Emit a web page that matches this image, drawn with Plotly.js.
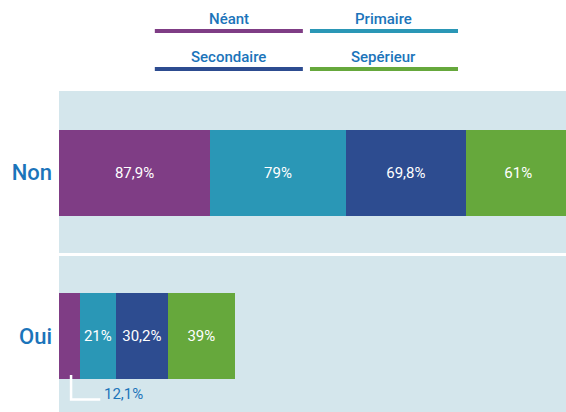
<!DOCTYPE html>
<html>
<head>
<meta charset="utf-8">
<script src="https://cdn.plot.ly/plotly-3.0.1.min.js"></script>
<style>
  html, body { margin: 0; padding: 0; background: #fff; }
  #chart { width: 566px; height: 412px; }
</style>
</head>
<body>
<div id="chart"></div>
<script>
// answer categories (y axis)
var reponses = ['Non', 'Oui'];

// education level series, % per answer
var niveaux = ['Néant', 'Primaire', 'Secondaire', 'Sepérieur'];
var neant = [87.9, 12.1];
var primaire = [79, 21];
var secondaire = [69.8, 30.2];
var superieur = [61, 39];

// labels as printed (french decimal comma)
var lblNeant = ['87,9%', '12,1%'];
var lblPrimaire = ['79%', '21%'];
var lblSecondaire = ['69,8%', '30,2%'];
var lblSuperieur = ['61%', '39%'];

var couleurs = ['#7f3d85', '#2a97b6', '#2d4c90', '#66a83c'];
var bleu = '#1b74ba';

var series = [neant, primaire, secondaire, superieur];
var labels = [lblNeant, lblPrimaire, lblSecondaire, lblSuperieur];

var data = series.map(function (vals, i) {
  // the small Neant/Oui value gets a callout instead of an inside label
  var txt = labels[i].map(function (t, j) { return vals[j] < 15 ? '' : t; });
  return {
    type: 'bar',
    orientation: 'h',
    y: reponses,
    x: vals,
    name: niveaux[i],
    width: 0.524,
    text: txt,
    textposition: 'inside',
    insidetextanchor: 'middle',
    textangle: 0,
    textfont: { family: 'Roboto', size: 15, color: '#ffffff', weight: 400 },
    marker: { color: couleurs[i], line: { width: 0 } },
    hoverinfo: 'none'
  };
});

// legend: text above a coloured rule, two columns
var legX = [[0.189, 0.481], [0.495, 0.787], [0.189, 0.481], [0.495, 0.787]];
var legY = [1.187, 1.187, 1.0685, 1.0685];
var shapes = [];
var annotations = [];
niveaux.forEach(function (n, i) {
  shapes.push({
    type: 'line', xref: 'paper', yref: 'paper',
    x0: legX[i][0], x1: legX[i][1], y0: legY[i], y1: legY[i],
    line: { color: couleurs[i], width: 4 }
  });
  annotations.push({
    xref: 'paper', yref: 'paper',
    x: (legX[i][0] + legX[i][1]) / 2, y: legY[i] + 0.003,
    xanchor: 'center', yanchor: 'bottom',
    text: n, showarrow: false,
    font: { family: 'Roboto', size: 15, color: bleu, weight: 500 }
  });
});

// white gap between the two panels
shapes.push({
  type: 'line', xref: 'paper', yref: 'y',
  x0: 0, x1: 1, y0: 0.5, y1: 0.5,
  line: { color: '#ffffff', width: 3 }, layer: 'below'
});

// callout for the small Oui / Neant value
var cx = neant[1] * 0.58;
shapes.push({
  type: 'path', xref: 'x', yref: 'y',
  path: 'M ' + cx + ' 1.237 L ' + cx + ' 1.386 L ' + (cx + 17) + ' 1.386',
  line: { color: '#ffffff', width: 2.5 }
});
annotations.push({
  xref: 'x', yref: 'y', x: cx + 17.8, y: 1.355,
  xanchor: 'left', yanchor: 'middle',
  text: lblNeant[1], showarrow: false,
  font: { family: 'Roboto', size: 15, color: bleu, weight: 400 }
});

var layout = {
  width: 566,
  height: 412,
  margin: { l: 59, r: 0, t: 91, b: 0 },
  barmode: 'stack',
  showlegend: false,
  paper_bgcolor: '#ffffff',
  plot_bgcolor: '#d4e6ec',
  xaxis: {
    range: [0, 295],
    showgrid: false, zeroline: false, showticklabels: false, fixedrange: true
  },
  yaxis: {
    type: 'category',
    range: [1.463, -0.5],
    showgrid: false, zeroline: false,
    ticks: '', ticklabelstandoff: 6,
    tickfont: { family: 'Roboto', size: 22, color: bleu, weight: 500 },
    fixedrange: true
  },
  shapes: shapes,
  annotations: annotations
};

Plotly.newPlot('chart', data, layout, { displayModeBar: false, staticPlot: true });
</script>
</body>
</html>
